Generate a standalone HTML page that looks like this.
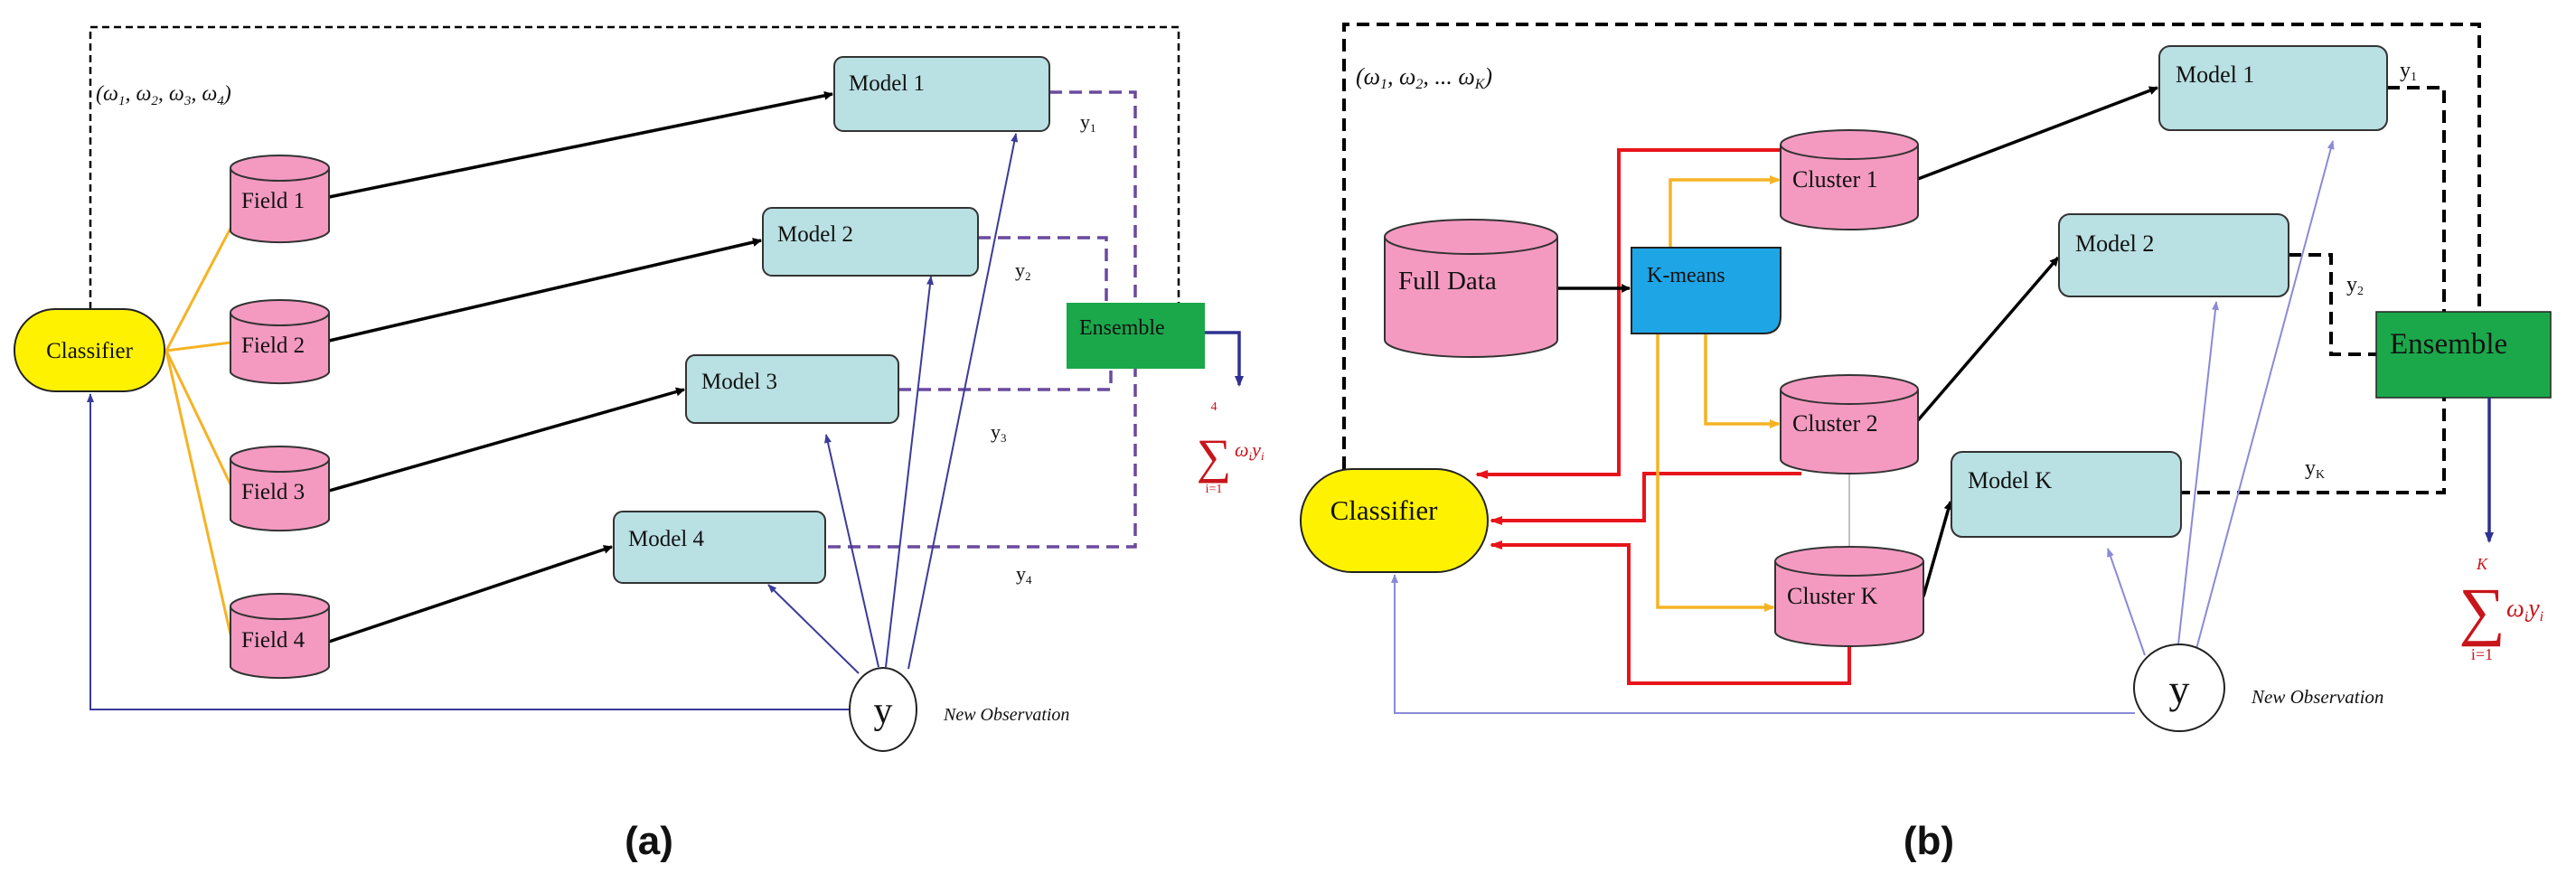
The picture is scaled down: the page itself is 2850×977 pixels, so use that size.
<!DOCTYPE html>
<html><head><meta charset="utf-8"><style>
html,body{margin:0;padding:0;background:#fff;width:2850px;height:977px;overflow:hidden}
svg{display:block}
text{font-family:"Liberation Serif",serif;fill:#111}
</style></head><body>
<svg width="2850" height="977" viewBox="0 0 2850 977" xmlns="http://www.w3.org/2000/svg">
<defs>
<marker id="ab" markerWidth="10" markerHeight="10" refX="9" refY="5" orient="auto" markerUnits="userSpaceOnUse"><path d="M0,0 L10,5 L0,10 z" fill="#000"/></marker>
<marker id="ap" markerWidth="10" markerHeight="10" refX="9" refY="5" orient="auto" markerUnits="userSpaceOnUse"><path d="M0,1 L10,5 L0,9 z" fill="#3b3b9a"/></marker>
<marker id="al" markerWidth="10" markerHeight="10" refX="9" refY="5" orient="auto" markerUnits="userSpaceOnUse"><path d="M0,1 L10,5 L0,9 z" fill="#8a8ad8"/></marker>
<marker id="ay" markerWidth="12" markerHeight="12" refX="10" refY="6" orient="auto" markerUnits="userSpaceOnUse"><path d="M0,1 L12,6 L0,11 z" fill="#f5b324"/></marker>
<marker id="ar" markerWidth="14" markerHeight="12" refX="12" refY="6" orient="auto" markerUnits="userSpaceOnUse"><path d="M0,1 L14,6 L0,11 z" fill="#e8141b"/></marker>
<marker id="ad" markerWidth="12" markerHeight="12" refX="10" refY="6" orient="auto" markerUnits="userSpaceOnUse"><path d="M0,1 L12,6 L0,11 z" fill="#2e3192"/></marker>
</defs>

<!-- ================= PANEL A ================= -->
<path d="M100,342 V30 H1304 V335" fill="none" stroke="#000" stroke-width="2.5" stroke-dasharray="8,5"/>
<text x="106" y="111" font-size="24" font-style="italic">(ω<tspan font-size="15" dy="5">1</tspan><tspan dy="-5">, ω</tspan><tspan font-size="15" dy="5">2</tspan><tspan dy="-5">, ω</tspan><tspan font-size="15" dy="5">3</tspan><tspan dy="-5">, ω</tspan><tspan font-size="15" dy="5">4</tspan><tspan dy="-5">)</tspan></text>

<!-- purple dashed -->
<g fill="none" stroke="#6a4a9e" stroke-width="3.5" stroke-dasharray="14,8">
<path d="M1161,102 H1256 V605 H913"/>
<path d="M1082,263 H1224 V335"/>
<path d="M994,431 H1229 V408"/>
</g>

<!-- yellow -->
<g stroke="#f5b324" stroke-width="3" fill="none">
<path d="M184,388 L259,245"/><path d="M184,388 L255,379"/><path d="M184,388 L255,536"/><path d="M184,388 L255,702"/>
</g>

<!-- black arrows -->
<g stroke="#000" stroke-width="3.5" marker-end="url(#ab)">
<line x1="364" y1="218" x2="921" y2="104"/>
<line x1="364" y1="377" x2="842" y2="266"/>
<line x1="364" y1="543" x2="757" y2="431"/>
<line x1="364" y1="710" x2="677" y2="605"/>
</g>

<!-- blue thin -->
<g stroke="#3b3b9a" stroke-width="2" fill="none" marker-end="url(#ap)">
<path d="M941,785 H100 V436"/>
<line x1="950" y1="745" x2="850" y2="647"/>
<line x1="972" y1="738" x2="914" y2="481"/>
<line x1="980" y1="738" x2="1030" y2="306"/>
<line x1="1005" y1="740" x2="1124" y2="148"/>
</g>

<!-- classifier -->
<rect x="16" y="342" width="166" height="91" rx="45" fill="#fff200" stroke="#222" stroke-width="2"/>
<text x="99" y="396" font-size="25" text-anchor="middle">Classifier</text>

<!-- fields -->
<g fill="#f49ac1" stroke="#333" stroke-width="2">
<path d="M255,186 V256 A55,14 0 0 0 364,256 V186"/><ellipse cx="309.5" cy="186" rx="54.5" ry="14"/>
<path d="M255,346 V412 A55,14 0 0 0 364,412 V346"/><ellipse cx="309.5" cy="346" rx="54.5" ry="14"/>
<path d="M255,508 V575 A55,14 0 0 0 364,575 V508"/><ellipse cx="309.5" cy="508" rx="54.5" ry="14"/>
<path d="M255,671 V738 A55,14 0 0 0 364,738 V671"/><ellipse cx="309.5" cy="671" rx="54.5" ry="14"/>
</g>
<g font-size="25"><text x="267" y="230">Field 1</text><text x="267" y="390">Field 2</text><text x="267" y="552">Field 3</text><text x="267" y="716">Field 4</text></g>

<!-- models -->
<g fill="#b9e0e3" stroke="#333" stroke-width="2">
<rect x="923" y="63" width="238" height="82" rx="10"/>
<rect x="844" y="230" width="238" height="75" rx="10"/>
<rect x="759" y="393" width="235" height="75" rx="10"/>
<rect x="679" y="566" width="234" height="79" rx="10"/>
</g>
<g font-size="25"><text x="939" y="100">Model 1</text><text x="860" y="267">Model 2</text><text x="776" y="430">Model 3</text><text x="695" y="604">Model 4</text></g>

<!-- ensemble -->
<rect x="1180" y="335" width="153" height="73" fill="#1ba84b"/>
<text x="1194" y="370" font-size="24">Ensemble</text>
<path d="M1333,368 H1371 V426" fill="none" stroke="#2e3192" stroke-width="3.5" marker-end="url(#ad)"/>

<g font-size="22"><text x="1195" y="142">y<tspan font-size="13" dy="4">1</tspan></text><text x="1123" y="306">y<tspan font-size="13" dy="4">2</tspan></text><text x="1096" y="485">y<tspan font-size="13" dy="4">3</tspan></text><text x="1124" y="642">y<tspan font-size="13" dy="4">4</tspan></text></g>

<!-- sum a -->
<g fill="#c8141b" style="fill:#c8141b">
<text x="1343" y="454" font-size="14" text-anchor="middle" style="fill:#c8141b">4</text>
<text x="1343" y="523" font-size="54" text-anchor="middle" style="fill:#c8141b">∑</text>
<text x="1343" y="545" font-size="14" text-anchor="middle" style="fill:#c8141b">i=1</text>
<text x="1366" y="505" font-size="22" font-style="italic" style="fill:#c8141b">ω<tspan font-size="13" dy="4">i</tspan><tspan dy="-4">y</tspan><tspan font-size="13" dy="4">i</tspan></text>
</g>

<ellipse cx="977" cy="785" rx="37" ry="46" fill="#fff" stroke="#222" stroke-width="2"/>
<text x="977" y="800" font-size="42" text-anchor="middle">y</text>
<text x="1044" y="797" font-size="20" font-style="italic">New Observation</text>

<text x="718" y="945" font-size="44" font-weight="bold" text-anchor="middle" style="font-family:'Liberation Sans',sans-serif">(a)</text>

<!-- ================= PANEL B ================= -->
<path d="M1487,519 V27 H2743 V345" fill="none" stroke="#000" stroke-width="4" stroke-dasharray="14,8"/>
<text x="1500" y="93" font-size="26" font-style="italic">(ω<tspan font-size="16" dy="5">1</tspan><tspan dy="-5">, ω</tspan><tspan font-size="16" dy="5">2</tspan><tspan dy="-5">, ... ω</tspan><tspan font-size="16" dy="5">K</tspan><tspan dy="-5">)</tspan></text>

<!-- black dashed -->
<g fill="none" stroke="#000" stroke-width="4" stroke-dasharray="14,8">
<path d="M2641,97 H2704 V545 H2413"/>
<path d="M2532,282 H2579 V392 H2629"/>
</g>

<!-- thin grey -->
<line x1="2046" y1="524" x2="2046" y2="605" stroke="#aaa" stroke-width="1.5"/>

<!-- red -->
<g fill="none" stroke="#e8141b" stroke-width="4" marker-end="url(#ar)">
<path d="M1970,166 H1791 V525 H1634"/>
<path d="M1993,524 H1819 V576 H1650"/>
<path d="M2046,715 V756 H1802 V603 H1650"/>
</g>

<!-- yellow -->
<g fill="none" stroke="#f5b324" stroke-width="3.5" marker-end="url(#ay)">
<path d="M1848,274 V199 H1968"/>
<path d="M1887,369 V469 H1968"/>
<path d="M1834,369 V672 H1962"/>
</g>

<!-- black arrows -->
<g stroke="#000" stroke-width="3.5" marker-end="url(#ab)">
<line x1="1723" y1="319" x2="1803" y2="319"/>
<line x1="2122" y1="198" x2="2387" y2="97"/>
<line x1="2122" y1="465" x2="2277" y2="285"/>
<line x1="2128" y1="660" x2="2158" y2="555"/>
</g>

<!-- light purple -->
<g stroke="#8a8ad8" stroke-width="2" fill="none" marker-end="url(#al)">
<path d="M2362,789 H1543 V636"/>
<line x1="2373" y1="725" x2="2332" y2="607"/>
<line x1="2410" y1="713" x2="2452" y2="334"/>
<line x1="2430" y1="718" x2="2581" y2="156"/>
</g>

<!-- classifier b -->
<rect x="1439" y="519" width="207" height="114" rx="57" fill="#fff200" stroke="#222" stroke-width="2"/>
<text x="1531" y="575" font-size="31" text-anchor="middle">Classifier</text>

<!-- cylinders b -->
<g fill="#f49ac1" stroke="#333" stroke-width="2">
<path d="M1532,262 V376 A95.5,19 0 0 0 1723,376 V262"/><ellipse cx="1627.5" cy="262" rx="95.5" ry="19"/>
<path d="M1970,160 V238 A76,16 0 0 0 2122,238 V160"/><ellipse cx="2046" cy="160" rx="76" ry="16"/>
<path d="M1970,431 V508 A76,16 0 0 0 2122,508 V431"/><ellipse cx="2046" cy="431" rx="76" ry="16"/>
<path d="M1964,621 V699 A82,16 0 0 0 2128,699 V621"/><ellipse cx="2046" cy="621" rx="82" ry="16"/>
</g>
<g font-size="29"><text x="1547" y="320">Full Data</text></g>
<g font-size="26"><text x="1983" y="207">Cluster 1</text><text x="1983" y="477">Cluster 2</text><text x="1977" y="668">Cluster K</text></g>

<!-- kmeans -->
<path d="M1805,274 H1970 V350 Q1970,369 1951,369 H1805 Z" fill="#1ea5e6" stroke="#222" stroke-width="2"/>
<text x="1822" y="312" font-size="24">K-means</text>

<!-- models b -->
<g fill="#b9e0e3" stroke="#333" stroke-width="2">
<rect x="2389" y="51" width="252" height="93" rx="12"/>
<rect x="2278" y="237" width="254" height="91" rx="12"/>
<rect x="2159" y="500" width="254" height="94" rx="12"/>
</g>
<g font-size="26"><text x="2407" y="91">Model 1</text><text x="2296" y="278">Model 2</text><text x="2177" y="540">Model K</text></g>

<!-- ensemble b -->
<rect x="2629" y="345" width="193" height="95" fill="#1ba84b" stroke="#222" stroke-width="1.5"/>
<text x="2644" y="391" font-size="33">Ensemble</text>
<line x1="2754" y1="440" x2="2754" y2="599" stroke="#2e3192" stroke-width="3.5" marker-end="url(#ad)"/>

<g font-size="24"><text x="2655" y="85">y<tspan font-size="14" dy="4">1</tspan></text><text x="2596" y="322">y<tspan font-size="14" dy="4">2</tspan></text><text x="2550" y="525">y<tspan font-size="14" dy="4">K</tspan></text></g>

<!-- sum b -->
<text x="2746" y="630" font-size="18" font-style="italic" text-anchor="middle" style="fill:#c8141b">K</text>
<text x="2746" y="700" font-size="72" text-anchor="middle" style="fill:#c8141b">∑</text>
<text x="2746" y="730" font-size="18" text-anchor="middle" style="fill:#c8141b">i=1</text>
<text x="2773" y="682" font-size="28" font-style="italic" style="fill:#c8141b">ω<tspan font-size="16" dy="5">i</tspan><tspan dy="-5">y</tspan><tspan font-size="16" dy="5">i</tspan></text>

<ellipse cx="2411" cy="761" rx="50" ry="48" fill="#fff" stroke="#222" stroke-width="2"/>
<text x="2411" y="778" font-size="46" text-anchor="middle">y</text>
<text x="2491" y="778" font-size="21" font-style="italic">New Observation</text>

<text x="2134" y="945" font-size="44" font-weight="bold" text-anchor="middle" style="font-family:'Liberation Sans',sans-serif">(b)</text>
</svg>
</body></html>
